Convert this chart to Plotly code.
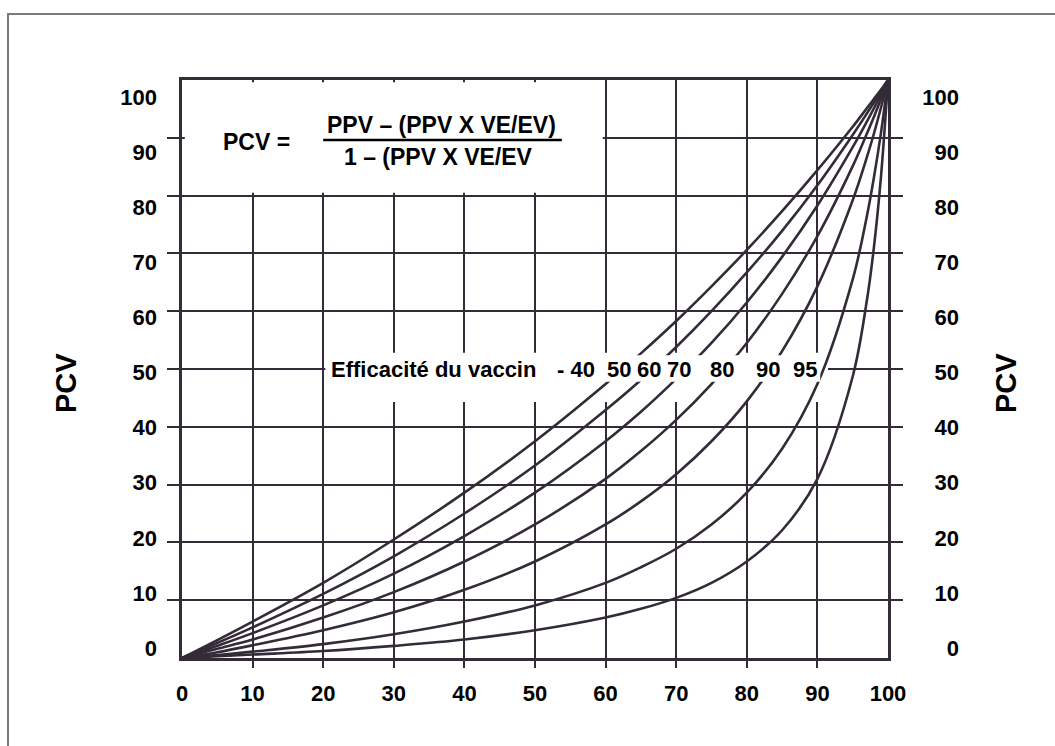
import plotly.graph_objects as go

# ---------------- data ----------------
ppv = [0, 5, 10, 20, 30, 40, 50, 60, 65, 70, 75, 80, 85, 90, 95, 97, 98, 99, 100]
ve_levels = [40, 50, 60, 70, 80, 90, 95]
pcv_ve40 = [0, 3.1, 6.3, 13.0, 20.5, 28.6, 37.5, 47.4, 52.7, 58.3, 64.3, 70.6, 77.3, 84.4, 91.9, 95.1, 96.7, 98.3, 100]
pcv_ve50 = [0, 2.6, 5.3, 11.1, 17.6, 25.0, 33.3, 42.9, 48.1, 53.8, 60.0, 66.7, 73.9, 81.8, 90.5, 94.2, 96.1, 98.0, 100]
pcv_ve60 = [0, 2.1, 4.3, 9.1, 14.6, 21.1, 28.6, 37.5, 42.6, 48.3, 54.5, 61.5, 69.4, 78.3, 88.4, 92.8, 95.1, 97.5, 100]
pcv_ve70 = [0, 1.6, 3.2, 7.0, 11.4, 16.7, 23.1, 31.0, 35.8, 41.2, 47.4, 54.5, 63.0, 73.0, 85.1, 90.7, 93.6, 96.7, 100]
pcv_ve80 = [0, 1.0, 2.2, 4.8, 7.9, 11.8, 16.7, 23.1, 27.1, 31.8, 37.5, 44.4, 53.1, 64.3, 79.2, 86.6, 90.7, 95.2, 100]
pcv_ve90 = [0, 0.5, 1.1, 2.4, 4.1, 6.3, 9.1, 13.0, 15.7, 18.9, 23.1, 28.6, 36.2, 47.4, 65.5, 76.4, 83.1, 90.8, 100]
pcv_ve95 = [0, 0.3, 0.6, 1.2, 2.1, 3.2, 4.8, 7.0, 8.5, 10.4, 13.0, 16.7, 22.1, 31.0, 48.7, 61.8, 71.0, 83.2, 100]
series = [pcv_ve40, pcv_ve50, pcv_ve60, pcv_ve70, pcv_ve80, pcv_ve90, pcv_ve95]

x_tick_labels = [0, 10, 20, 30, 40, 50, 60, 70, 80, 90, 100]
y_tick_labels = [0, 10, 20, 30, 40, 50, 60, 70, 80, 90, 100]
grid_ticks = [10, 20, 30, 40, 50, 60, 70, 80, 90]
ve_label_x = [55.8, 61.9, 66.2, 70.4, 76.5, 83.0, 88.2]

formula_left = "PCV ="
formula_num = "PPV – (PPV X VE/EV)"
formula_den = "1 – (PPV X VE/EV"
ve_caption = "Efficacité du vaccin"
axis_title = "PCV"

# ---------------- style ----------------
INK = "#332b38"
FONT = "Liberation Sans, Arial, sans-serif"
W, H = 1055, 746
ML, MR, MT, MB = 182, 90, 80, 88
paper_w = W - ML - MR
xdom = (888 - 182) / paper_w
label_range = [-1.815, 103.1]

fig = go.Figure()
for ve, ys in zip(ve_levels, series):
    fig.add_trace(go.Scatter(
        x=ppv, y=ys, mode="lines", name=f"VE {ve}",
        line=dict(color=INK, width=2.6, shape="spline", smoothing=1.0),
        showlegend=False, hoverinfo="skip"))

# invisible helpers so the label-only axes are drawn
fig.add_trace(go.Scatter(x=[50], y=[50], xaxis="x2", yaxis="y2", mode="markers",
                         marker=dict(opacity=0), showlegend=False, hoverinfo="skip"))
fig.add_trace(go.Scatter(x=[50], y=[50], xaxis="x", yaxis="y3", mode="markers",
                         marker=dict(opacity=0), showlegend=False, hoverinfo="skip"))

lab_font = dict(family=FONT, size=22, color="black", weight="bold")

fig.update_layout(
    width=W, height=H,
    margin=dict(l=ML, r=MR, t=MT, b=MB, pad=0),
    paper_bgcolor="white", plot_bgcolor="white",
    font=dict(family=FONT, color="black"),
    xaxis=dict(domain=[0, xdom], range=[0, 100], tickvals=grid_ticks,
               showticklabels=False, ticks="outside", ticklen=7, tickwidth=2,
               tickcolor=INK, showgrid=True, gridcolor=INK, gridwidth=2,
               showline=True, linecolor=INK, linewidth=2.5, mirror=True,
               zeroline=False, fixedrange=True),
    xaxis2=dict(overlaying="x", anchor="y", side="bottom", range=[0, 100],
                tickvals=x_tick_labels, ticktext=[str(v) for v in x_tick_labels],
                ticks="", showgrid=False, showline=False, zeroline=False,
                tickfont=lab_font, ticklabelstandoff=20, fixedrange=True),
    yaxis=dict(range=[0, 100], tickvals=grid_ticks, showticklabels=False,
               ticks="outside", ticklen=12, tickwidth=2, tickcolor=INK,
               showgrid=True, gridcolor=INK, gridwidth=2,
               showline=True, linecolor=INK, linewidth=2.5, mirror="ticks",
               zeroline=False, fixedrange=True),
    yaxis2=dict(overlaying="y", anchor="x", side="left", range=label_range,
                tickvals=y_tick_labels, ticktext=[str(v) for v in y_tick_labels],
                ticks="", showgrid=False, showline=False, zeroline=False,
                tickfont=lab_font, ticklabelstandoff=24, fixedrange=True),
    yaxis3=dict(overlaying="y", anchor="free", position=1.0, side="left",
                range=label_range,
                tickvals=y_tick_labels, ticktext=[str(v) for v in y_tick_labels],
                ticks="", showgrid=False, showline=False, zeroline=False,
                tickfont=lab_font, ticklabelstandoff=6, fixedrange=True),
)

shapes = [
    # formula box (hides grid in top-left)
    dict(type="rect", xref="x", yref="y", x0=0.4, x1=59.6, y0=80.5, y1=99.6,
         fillcolor="white", line=dict(width=0), layer="between"),
    # gap in the grid around the efficacy caption
    dict(type="rect", xref="x", yref="y", x0=20.4, x1=91.5, y0=44.3, y1=52.8,
         fillcolor="white", line=dict(width=0), layer="between"),
    # white band behind the caption (covers curves)
    dict(type="rect", xref="x", yref="y", x0=20.3, x1=90.4, y0=47.8, y1=52.4,
         fillcolor="white", line=dict(width=0), layer="above"),
    # fraction bar of the formula
    dict(type="line", xref="x", yref="y", x0=20.0, x1=53.8, y0=89.6, y1=89.6,
         line=dict(color="black", width=2.5), layer="above"),
    # outer frame
    dict(type="rect", xref="paper", yref="paper",
         x0=(8 - ML) / paper_w, x1=1.3, y0=-0.3, y1=(H - MB - 14) / (H - MT - MB),
         line=dict(color="#7a7a7a", width=2), fillcolor="rgba(0,0,0,0)", layer="below"),
]
fig.update_layout(shapes=shapes)

ann_font = dict(family=FONT, size=23, color="black", weight="bold")
annotations = [
    dict(x=10.6, y=89.3, text=formula_left),
    dict(x=36.8, y=92.3, text=formula_num),
    dict(x=36.3, y=86.6, text=formula_den),
    dict(x=35.6, y=49.9, text=ve_caption, font=dict(family=FONT, size=22, color="black", weight="bold")),
]
for i, (ve, xv) in enumerate(zip(ve_levels, ve_label_x)):
    txt = f"- {ve}" if i == 0 else str(ve)
    annotations.append(dict(x=xv, y=49.9, text=txt,
                            font=dict(family=FONT, size=22, color="black", weight="bold")))
for a in annotations:
    a.update(xref="x", yref="y", showarrow=False, xanchor="center", yanchor="middle")
    a.setdefault("font", ann_font)

pcv_font = dict(family=FONT, size=29, color="black", weight="bold")
annotations.append(dict(xref="paper", yref="paper", x=(66 - ML) / paper_w,
                        y=(H - MB - 383) / (H - MT - MB), text=axis_title,
                        textangle=-90, showarrow=False, font=pcv_font,
                        xanchor="center", yanchor="middle"))
annotations.append(dict(xref="paper", yref="paper", x=(1006 - ML) / paper_w,
                        y=(H - MB - 383) / (H - MT - MB), text=axis_title,
                        textangle=-90, showarrow=False, font=pcv_font,
                        xanchor="center", yanchor="middle"))
fig.update_layout(annotations=annotations)

fig.write_html("out.html")
